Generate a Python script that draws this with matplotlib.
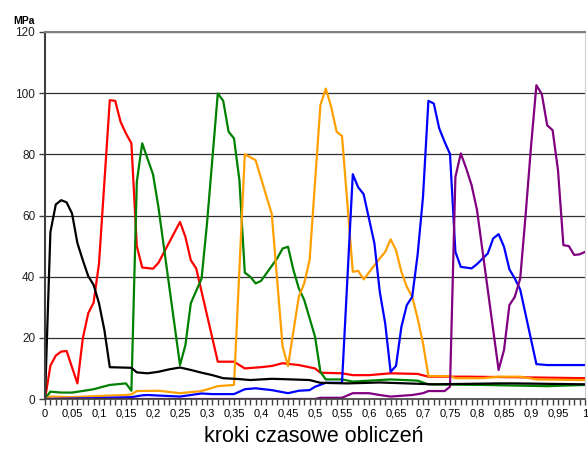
import matplotlib
matplotlib.use('Agg')
import numpy as np
import matplotlib.pyplot as plt
from matplotlib.ticker import MultipleLocator, FuncFormatter

# values (x = time step fraction, y = MPa)
black_x = [0, .01, .02, .03, .04, .05, .06, .07, .08, .09, .10, .11, .12, .16, .17, .19, .21,
           .23, .25, .27, .29, .31, .33, .36, .38, .42, .44, .49, .51, .56, .62, .72, .84, .87, 1.0]
black_y = [0, 54.6, 63.6, 65, 64.3, 60.7, 51, 45.4, 40.2, 37.3, 31.3, 22.5, 10.4, 10.2, 8.7, 8.4, 8.9,
           9.7, 10.3, 9.5, 8.6, 7.8, 6.8, 6.5, 6.2, 6.6, 6.5, 6.2, 5.3, 5.1, 5.4, 4.8, 5.1, 5.1, 4.8]

red_x = [0, .01, .02, .03, .04, .06, .07, .08, .09, .10, .12, .13, .14, .15, .16, .17, .18, .20, .21,
         .25, .26, .27, .28, .32, .35, .37, .40, .42, .44, .47, .50, .51, .55, .57, .60, .62, .64,
         .69, .71, .78, .88, 1.0]
red_y = [0, 10.9, 14.2, 15.5, 15.7, 5.1, 19.8, 28, 31.5, 44.3, 97.7, 97.5, 90.6, 86.8, 83.6, 50, 43, 42.6, 44.5,
         57.9, 53, 45.4, 42.7, 12.2, 12.2, 10, 10.4, 10.8, 11.7, 11.1, 10, 8.6, 8.4, 7.8, 7.8, 8.1, 8.4,
         8.2, 7.3, 7.3, 7.1, 6.8]

green_x = [0, .01, .03, .05, .08, .09, .12, .15, .16, .17, .18, .19, .20, .21, .25, .26, .27, .29, .30,
           .32, .33, .34, .35, .36, .37, .38, .39, .40, .43, .44, .45, .46, .47, .48, .50, .51, .52,
           .55, .57, .62, .64, .69, .71, .81, .93, 1.0]
green_y = [0, 2.4, 2.1, 2.1, 2.9, 3.2, 4.6, 5.1, 2.7, 71, 83.6, 78.5, 73.5, 62.8, 11.1, 17.6, 31.3, 39.4, 57.4,
           99.9, 97.5, 87.4, 85.2, 71.6, 41.3, 40, 37.8, 38.6, 46, 49.2, 49.8, 42.2, 36.2, 32.4, 20.4, 8.9, 6.4,
           6.4, 5.7, 6.2, 6.4, 6, 4.8, 4.6, 4.2, 4.6]

orange_x = [0, .01, .05, .10, .15, .16, .17, .21, .25, .29, .32, .35, .37, .39, .42, .44, .45, .47, .48,
            .49, .51, .52, .53, .54, .55, .57, .58, .59, .62, .63, .64, .65, .66, .67, .68, .69, .70,
            .71, .75, .76, .81, .84, .88, .91, 1.0]
orange_y = [0, 0.8, 0.6, 1.0, 1.3, 1.5, 2.6, 2.7, 1.9, 2.6, 4.2, 4.6, 80, 78.1, 60.4, 17.1, 10.8, 33.4, 37.8,
            45.4, 96.1, 101.5, 95.5, 87.4, 86, 41.6, 41.9, 39.1, 46, 48.1, 52.2, 48.7, 41.6, 36.7, 33.4, 26.4, 18.2,
            7.5, 7.5, 6.8, 6.8, 7.3, 7.3, 6.4, 6.2]

blue_x = [0, .10, .16, .18, .19, .25, .29, .31, .35, .37, .39, .42, .45, .47, .49, .50, .52, .55, .57,
          .58, .59, .61, .62, .63, .64, .65, .66, .67, .68, .69, .70, .71, .72, .73, .74, .75, .76,
          .77, .79, .80, .82, .83, .84, .85, .86, .87, .88, .91, .93, 1.0]
blue_y = [0, 0.3, 0.6, 1.2, 1.3, 0.8, 1.8, 1.6, 1.6, 3.2, 3.5, 2.9, 1.9, 2.7, 2.9, 4.0, 5.3, 5.3, 73.5,
          69.2, 67, 50.9, 35, 24.7, 8.9, 10.8, 23.6, 30.7, 33.4, 47.1, 66.1, 97.5, 96.6, 88.5, 84.1, 80.1, 48.1,
          43.2, 42.7, 44.1, 47.6, 52.5, 53.9, 49.8, 42.4, 39.4, 35.8, 11.4, 11.1, 11.1]

purple_x = [0, .50, .51, .55, .57, .60, .62, .64, .68, .70, .71, .74, .75, .76, .77, .78, .79, .80,
            .84, .85, .86, .87, .88, .89, .90, .91, .92, .93, .94, .95, .96, .97, .98, .99, 1.0]
purple_y = [0, 0, 0.4, 0.4, 1.9, 1.9, 1.3, 0.8, 1.3, 1.9, 2.6, 2.6, 4.0, 72.6, 80.3, 75.4, 69.9, 61.8,
            9.5, 16, 30.7, 33.4, 39.4, 60.1, 82.5, 102.6, 99.7, 89.5, 87.9, 74.8, 50.3, 50, 47.1, 47.3, 48.1]

RED = '#FF0000'
GREEN = '#008000'
ORANGE = '#FFA000'
BLUE = '#0000FF'
PURPLE = '#800080'
FONT = ['Liberation Sans', 'DejaVu Sans']

fig = plt.figure(figsize=(5.88, 4.5), dpi=100)
ax = fig.add_axes([45 / 588, 1 - 399 / 450, 540 / 588, 367 / 450])

LW = 1.6
ax.plot(red_x, red_y, color=RED, lw=LW)
ax.plot(green_x, green_y, color=GREEN, lw=LW)
ax.plot(orange_x, orange_y, color=ORANGE, lw=LW)
ax.plot(blue_x, blue_y, color=BLUE, lw=LW)
ax.plot(purple_x, purple_y, color=PURPLE, lw=LW)
ax.plot(black_x, black_y, color='black', lw=LW)

ax.set_xlim(0, 1)
ax.set_ylim(0, 120)

# horizontal gridlines
ax.yaxis.grid(True, color='#303030', linewidth=0.9)
ax.set_axisbelow(True)

ax.spines['top'].set_color('#808080')
ax.spines['top'].set_linewidth(1.5)
ax.spines['right'].set_color('#d0d0d0')
ax.spines['right'].set_linewidth(0.8)
ax.spines['left'].set_color('#404040')
ax.spines['left'].set_linewidth(1.5)
ax.spines['bottom'].set_color('#404040')
ax.spines['bottom'].set_linewidth(1.2)

ax.set_yticks(np.arange(0, 121, 20))
ax.xaxis.set_major_locator(MultipleLocator(0.05))
ax.xaxis.set_minor_locator(MultipleLocator(0.01))

def comma(x, pos):
    s = f'{x:.2f}'.rstrip('0').rstrip('.')
    return s.replace('.', ',')

ax.xaxis.set_major_formatter(FuncFormatter(comma))
ax.tick_params(axis='x', which='both', direction='out', length=4, width=1, color='#404040', pad=3)
ax.tick_params(axis='y', direction='out', length=4, width=1, color='#404040', pad=3)
for lab in ax.get_xticklabels():
    lab.set_family(FONT)
    lab.set_fontsize(8)
for lab in ax.get_yticklabels():
    lab.set_family(FONT)
    lab.set_fontsize(8.5)
    lab.set_color('#202020')

fig.text(23.5 / 588, 1 - 20.5 / 450, 'MPa', family=FONT, weight='bold', fontsize=7.5,
         ha='center', va='center')
fig.text(314 / 588, 1 - 436 / 450, 'kroki czasowe obliczeń', family=FONT, fontsize=15.5,
         ha='center', va='center')

fig.savefig('out.png', dpi=100)
